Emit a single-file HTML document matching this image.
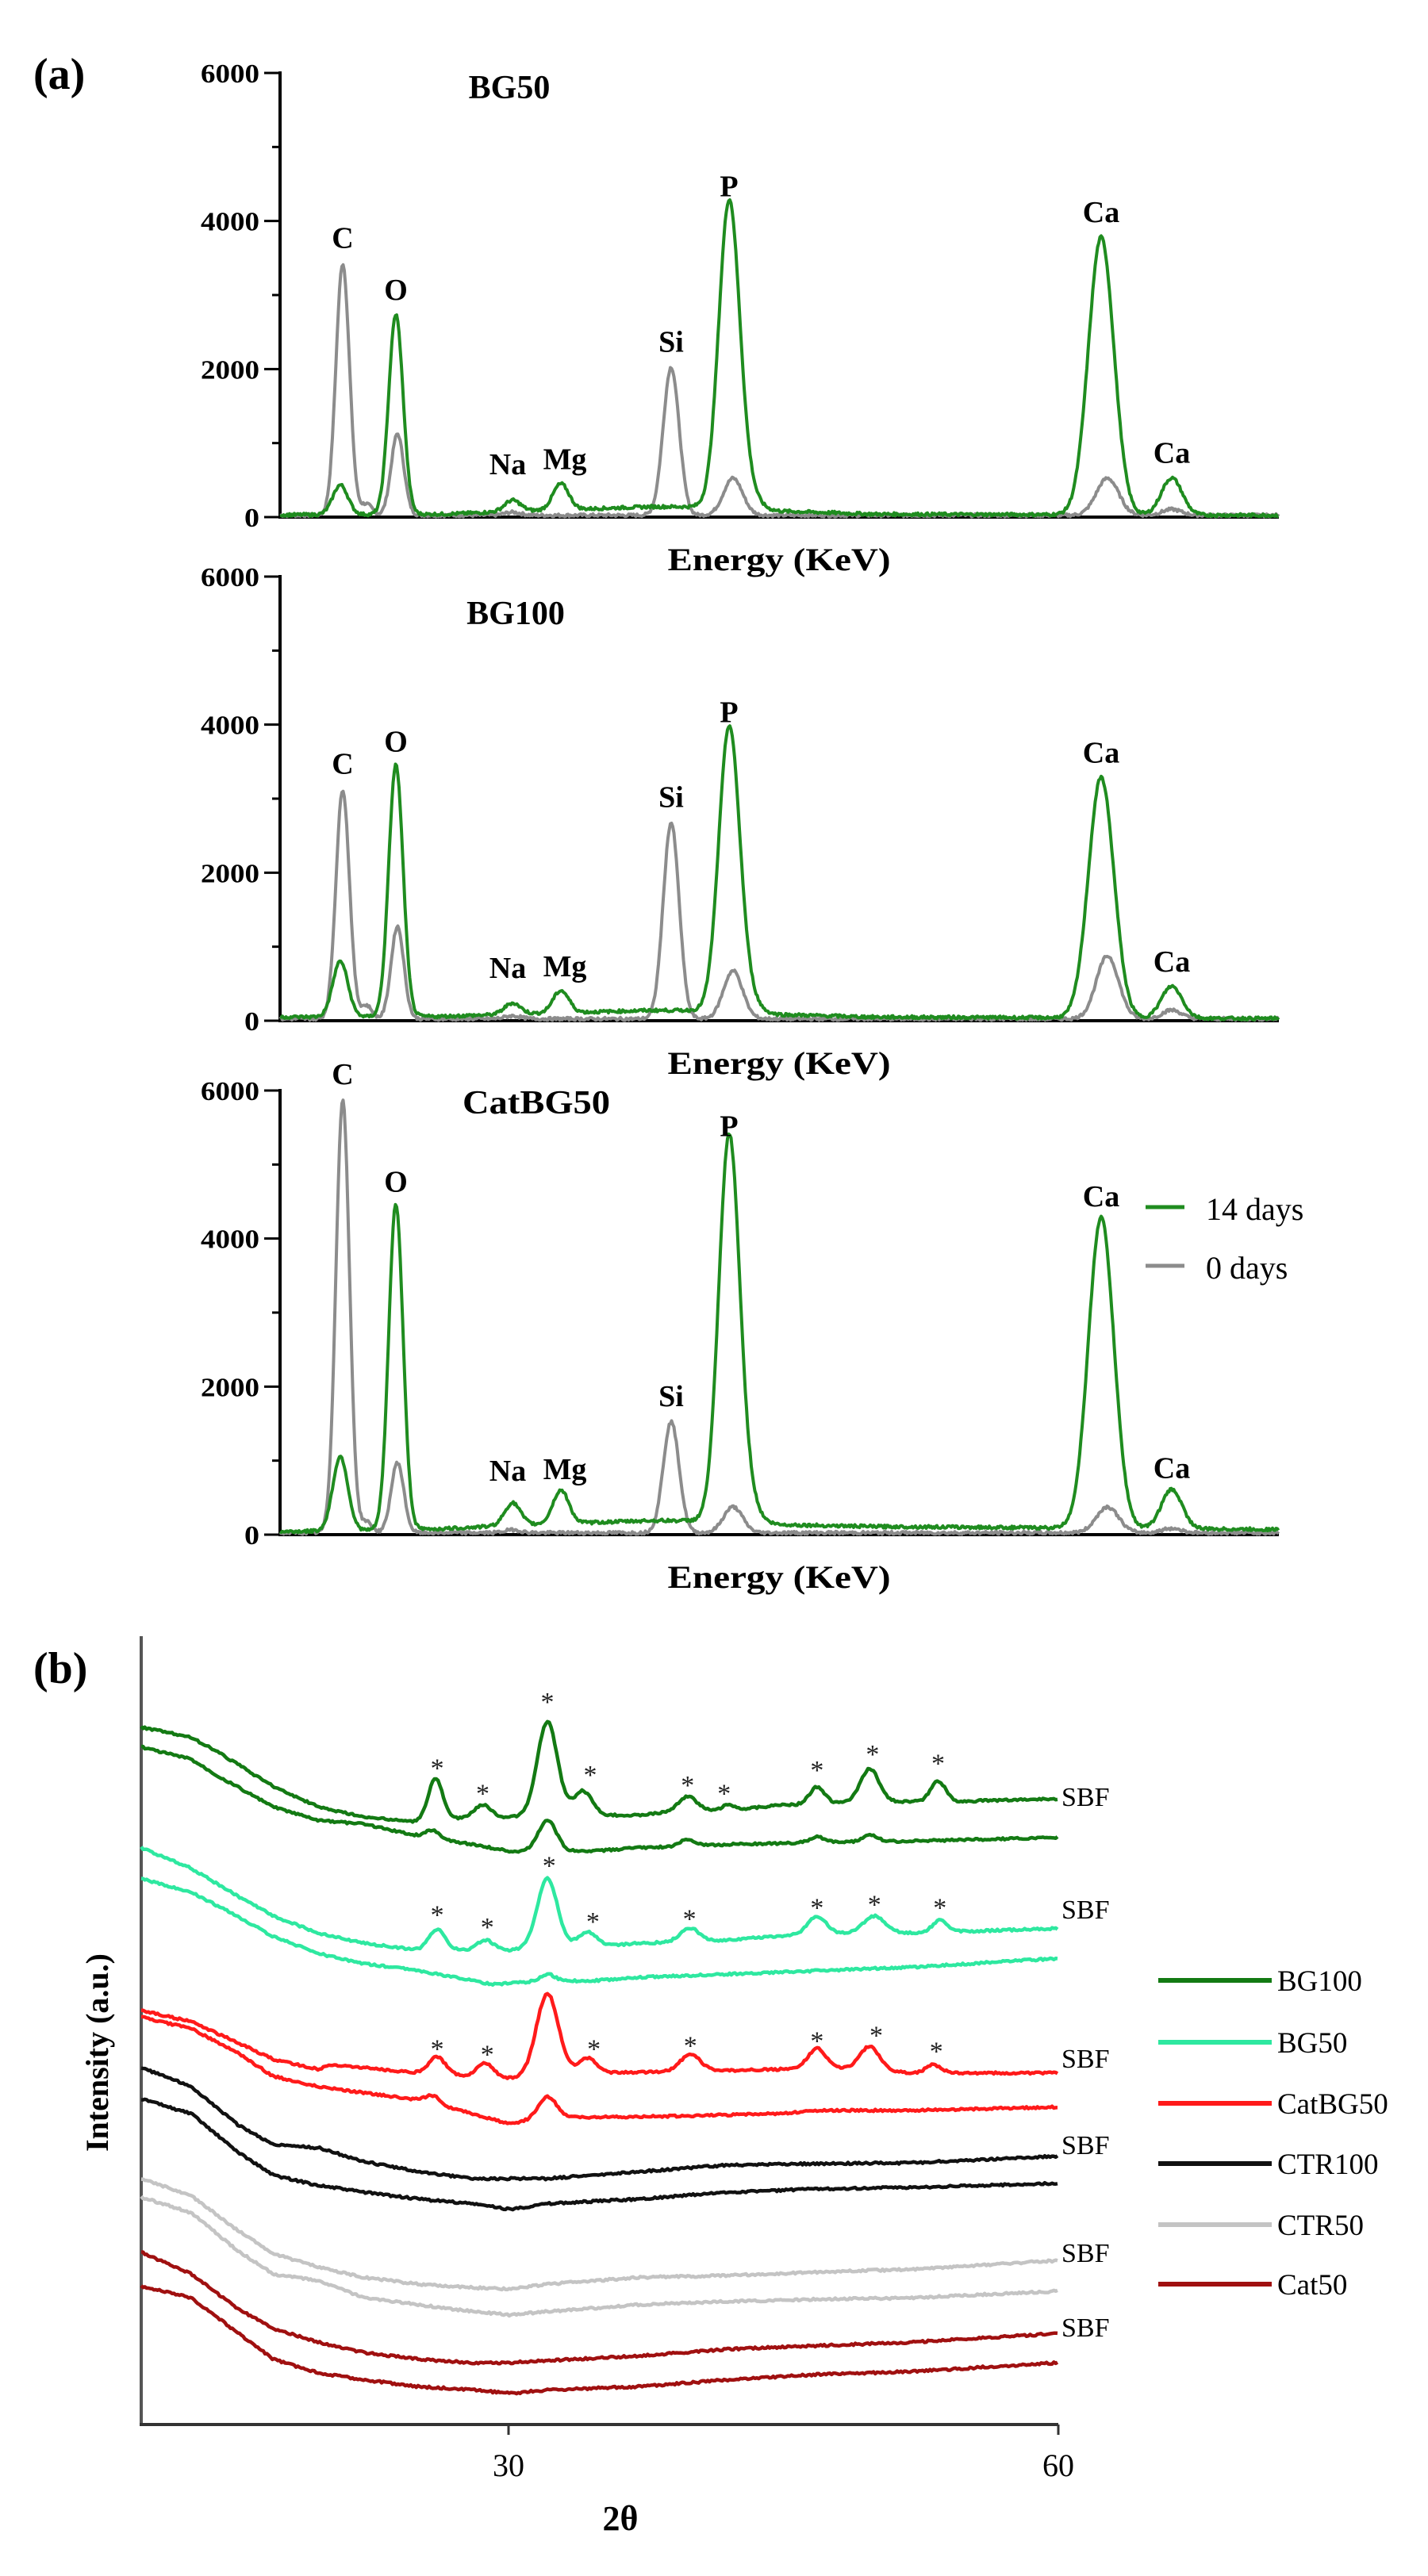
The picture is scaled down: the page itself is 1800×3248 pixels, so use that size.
<!DOCTYPE html>
<html><head><meta charset="utf-8">
<style>
html,body{margin:0;padding:0;background:#fff;}
svg{display:block;}
text{font-family:"Liberation Serif",serif;}
</style></head>
<body>
<svg id="s" xmlns="http://www.w3.org/2000/svg" width="1800" height="3248" viewBox="0 0 1800 3248">
<rect width="1800" height="3248" fill="#fff"/>
<text x="42" y="112" font-size="56" font-weight="bold">(a)</text>
<text x="42" y="2122" font-size="56" font-weight="bold">(b)</text>
<g id="eds"></g>
<g id="xrd"></g>
<text x="642" y="124" font-size="42" font-weight="bold" text-anchor="middle">BG50</text>
<text x="650" y="787" font-size="42" font-weight="bold" text-anchor="middle">BG100</text>
<text x="676" y="1404" font-size="42" font-weight="bold" text-anchor="middle" textLength="186" lengthAdjust="spacingAndGlyphs">CatBG50</text>
<g font-size="40" font-weight="bold" text-anchor="middle">
<text x="982" y="719" textLength="281" lengthAdjust="spacingAndGlyphs">Energy (KeV)</text>
<text x="982" y="1354" textLength="281" lengthAdjust="spacingAndGlyphs">Energy (KeV)</text>
<text x="982" y="2002" textLength="281" lengthAdjust="spacingAndGlyphs">Energy (KeV)</text>
</g>
<line x1="1444" y1="1522" x2="1493" y2="1522" stroke="#1f8c1f" stroke-width="5"/>
<line x1="1444" y1="1596" x2="1493" y2="1596" stroke="#8c8c8c" stroke-width="5"/>
<text x="1520" y="1538" font-size="40">14 days</text>
<text x="1520" y="1612" font-size="40">0 days</text>
<text x="641" y="3122" font-size="40" text-anchor="middle">30</text>
<text x="1334" y="3122" font-size="40" text-anchor="middle">60</text>
<text x="782" y="3190" font-size="44" font-weight="bold" text-anchor="middle">2θ</text>
<text transform="translate(136,2588) rotate(-90)" font-size="40" font-weight="bold" text-anchor="middle">Intensity (a.u.)</text>
<g font-size="37">
<text x="1610" y="2510">BG100</text>
<text x="1610" y="2588">BG50</text>
<text x="1610" y="2665">CatBG50</text>
<text x="1610" y="2741">CTR100</text>
<text x="1610" y="2818">CTR50</text>
<text x="1610" y="2893">Cat50</text>
</g>
<g stroke-width="6">
<line x1="1460" y1="2497" x2="1603" y2="2497" stroke="#137a13"/>
<line x1="1460" y1="2575" x2="1603" y2="2575" stroke="#2ee8a0"/>
<line x1="1460" y1="2652" x2="1603" y2="2652" stroke="#ff1a1a"/>
<line x1="1460" y1="2728" x2="1603" y2="2728" stroke="#111"/>
<line x1="1460" y1="2805" x2="1603" y2="2805" stroke="#c4c4c4"/>
<line x1="1460" y1="2880" x2="1603" y2="2880" stroke="#a01010"/>
</g>
<g font-size="34">
<text x="1338" y="2277">SBF</text>
<text x="1338" y="2419">SBF</text>
<text x="1338" y="2607">SBF</text>
<text x="1338" y="2716">SBF</text>
<text x="1338" y="2852">SBF</text>
<text x="1338" y="2946">SBF</text>
</g>
<g id="stars" font-size="34" text-anchor="middle" fill="#222"></g>
<g id="elabels" font-size="38" font-weight="bold" text-anchor="middle"></g>
</svg>
<script>
(function(){
var NS="http://www.w3.org/2000/svg";
function el(t,a,p){var e=document.createElementNS(NS,t);for(var k in a)e.setAttribute(k,a[k]);p.appendChild(e);return e;}
var seed=7;function rnd(){seed=(seed*9301+49297)%233280;return seed/233280;}
function interp(pts,x){for(var i=0;i<pts.length-1;i++){if(x<=pts[i+1][0]){var t=(x-pts[i][0])/(pts[i+1][0]-pts[i][0]);return pts[i][1]+t*(pts[i+1][1]-pts[i][1]);}}return pts[pts.length-1][1];}
function g(x,c,h,s){var d=(x-c)/s;return h*Math.exp(-0.5*d*d);}
var eds=document.getElementById('eds');
var X0=353,X1=1612;
var panels=[
 {z:652,green:{C:400,O:2700,Na:150,Mg:350,P:4100,Ca:3750,Ca2:500,bl:[[353,30],[560,40],[650,80],[820,140],[900,140],[960,90],[1100,40],[1612,25]]},
  gray:{C:3400,s:150,O:1100,Si:2000,P:500,Ca:500,Ca2:80}},
 {z:1287,green:{C:750,O:3400,Na:150,Mg:300,P:3800,Ca:3250,Ca2:430,bl:[[353,50],[560,60],[650,90],[820,140],[900,140],[960,90],[1100,50],[1612,30]]},
  gray:{C:3100,s:180,O:1250,Si:2650,P:650,Ca:850,Ca2:120}},
 {z:1935,green:{C:1000,O:4400,Na:300,Mg:450,P:5150,Ca:4200,Ca2:530,bl:[[353,40],[560,80],[650,130],[820,190],[900,190],[960,140],[1100,110],[1612,70]]},
  gray:{C:5850,s:150,O:950,Si:1500,P:350,Ca:350,Ca2:60}}
];
var pos={C:432,s:462,O:499,Na:646,Mg:707,Si:846,P:919,Ca:1388,Ca2:1477};
var sig={C:8.5,s:7,O:9,Na:10,Mg:10,Si:10,P:13,Ca:16,Ca2:13};
var lab=document.getElementById('elabels');
panels.forEach(function(p){
 var z=p.z,sc=560/6000;
 el('line',{x1:X0,y1:z-562,x2:X0,y2:z+2,stroke:'#000','stroke-width':4},eds);
 el('line',{x1:X0-2,y1:z,x2:X1,y2:z,stroke:'#000','stroke-width':4},eds);
 for(var v=0;v<=6000;v+=1000){var y=z-v*sc;el('line',{x1:(v%2000?X0-10:X0-20),y1:y,x2:X0,y2:y,stroke:'#000','stroke-width':3},eds);
  if(v%2000==0){var t=el('text',{x:327,y:y+12,'font-size':34,'font-weight':'bold','text-anchor':'end',textLength:(v?74:19),lengthAdjust:'spacingAndGlyphs'},eds);t.textContent=v;}}
 function curve(f,col,w){var d='';for(var x=X0;x<=X1;x+=1.5){var val=f(x)+(rnd()-0.5)*40;var y=z-Math.max(0,val)*sc;d+=(x==X0?'M':'L')+x.toFixed(1)+' '+y.toFixed(1);}el('path',{d:d,fill:'none',stroke:col,'stroke-width':w,'stroke-linejoin':'round'},eds);}
 var gr=p.gray,gn=p.green;
 curve(function(x){return 25+g(x,pos.C,gr.C,sig.C)+g(x,pos.s,gr.s,7)+g(x,pos.O+2,gr.O,8)+g(x,pos.Na,40,10)+g(x,pos.Si,gr.Si,sig.Si)+g(x,924,gr.P,12)+g(x,1396,gr.Ca,14)+g(x,pos.Ca2,gr.Ca2,12);},'#8c8c8c',4);
 curve(function(x){return interp(gn.bl,x)+g(x,pos.C-3,gn.C,sig.C+1)+g(x,pos.O,gn.O,sig.O)+g(x,pos.Na,gn.Na,10)+g(x,pos.Mg,gn.Mg,10)+g(x,pos.P,gn.P,13)+g(x,pos.P+22,gn.P*0.06,14)+g(x,pos.Ca,gn.Ca,16)+g(x,pos.Ca2,gn.Ca2,13);},'#1f8c1f',4);
 function L(txt,x,top){var t=el('text',{x:x,y:z-top*sc-22},lab);t.textContent=txt;}
 L('C',pos.C,Math.max(gr.C,gn.C));L('O',pos.O,Math.max(gr.O,gn.O));
 var t=el('text',{x:640,y:z-gn.Na*sc-40},lab);t.textContent='Na';
 t=el('text',{x:712,y:z-gn.Mg*sc-28},lab);t.textContent='Mg';
 L('Si',pos.Si,gr.Si);L('P',pos.P,gn.P);L('Ca',pos.Ca,gn.Ca);L('Ca',pos.Ca2,gn.Ca2);
});
var xr=document.getElementById('xrd');
function MX(x){return x/0.871;}function MY(y){return y/1.163+1900;}
el('line',{x1:178,y1:2063,x2:178,y2:3058,stroke:'#555','stroke-width':4},xr);
el('line',{x1:176,y1:3057,x2:1334,y2:3057,stroke:'#333','stroke-width':4},xr);
el('line',{x1:641,y1:3057,x2:641,y2:3070,stroke:'#333','stroke-width':3},xr);
el('line',{x1:1334,y1:3057,x2:1334,y2:3070,stroke:'#333','stroke-width':3},xr);
var curves=[
 ['#137a13',[[155,323],[210,338],[240,360],[300,410],[350,440],[400,455],[460,462],[520,455],[560,455],[600,450],[650,452],[700,452],[750,445],[800,445],[850,438],[900,435],[950,432],[1000,432],[1050,432],[1100,430],[1162,428]],[[478,62,8],[530,18,9],[601,135,11],[640,35,10],[755,20,10],[800,8,7],[897,25,8],[955,48,10],[1030,30,8]]],
 ['#137a13',[[155,352],[210,370],[240,395],[300,440],[350,460],[400,465],[460,483],[520,495],[560,505],[600,505],[650,505],[700,500],[800,495],[900,492],[1000,490],[1162,485]],[[475,12,8],[601,45,10],[755,10,8],[897,8,8],[955,10,8]]],
 ['#2ee8a0',[[155,500],[210,530],[260,570],[300,600],[350,625],[400,640],[460,650],[520,650],[560,650],[600,645],[650,645],[700,640],[800,635],[900,625],[1000,625],[1162,618]],[[480,30,9],[533,15,9],[601,100,11],[645,22,10],[757,20,10],[897,25,10],[960,25,12],[1032,18,8]]],
 ['#2ee8a0',[[155,545],[210,565],[260,600],[300,630],[350,655],[400,670],[460,680],[540,700],[600,695],[650,695],[700,690],[800,685],[900,680],[1000,675],[1162,662]],[[601,10,8]]],
 ['#ff1a1a',[[155,738],[210,755],[260,785],[300,810],[350,825],[360,818],[380,820],[460,830],[520,835],[560,838],[600,832],[660,830],[750,828],[850,825],[900,822],[1000,830],[1162,830]],[[480,25,9],[533,20,9],[601,118,12],[645,22,10],[758,25,11],[897,28,10],[955,35,11],[1025,12,8]]],
 ['#ff1a1a',[[155,748],[210,765],[260,800],[300,835],[350,850],[460,870],[520,890],[560,905],[600,895],[660,895],[750,893],[850,890],[900,885],[1000,885],[1162,880]],[[475,12,8],[601,30,10]]],
 ['#111',[[155,822],[210,850],[260,905],[300,935],[350,940],[400,960],[460,975],[520,985],[560,985],[600,985],[700,975],[800,965],[900,963],[1000,962],[1162,952]],[]],
 ['#111',[[155,868],[210,890],[260,945],[300,980],[350,995],[400,1005],[460,1015],[520,1022],[560,1030],[600,1022],[700,1015],[800,1005],[900,1000],[1000,998],[1162,992]],[]],
 ['#c4c4c4',[[155,985],[210,1010],[260,1060],[300,1095],[350,1115],[400,1130],[460,1140],[520,1145],[560,1147],[600,1140],[700,1130],[800,1127],[900,1122],[1000,1118],[1162,1105]],[]],
 ['#c4c4c4',[[155,1012],[210,1035],[260,1090],[300,1125],[350,1135],[400,1160],[460,1170],[520,1180],[560,1185],[600,1180],[700,1170],[800,1165],[900,1162],[1000,1160],[1162,1150]],[]],
 ['#a01010',[[155,1093],[210,1125],[260,1175],[300,1205],[350,1225],[400,1240],[460,1250],[520,1255],[560,1255],[600,1252],[700,1245],[800,1235],[900,1230],[1000,1225],[1162,1212]],[]],
 ['#a01010',[[155,1143],[210,1160],[260,1210],[300,1250],[350,1270],[400,1280],[460,1290],[520,1295],[560,1300],[600,1295],[700,1290],[800,1280],[900,1272],[1000,1268],[1162,1255]],[]]
];
curves.forEach(function(c){var d='';for(var x=155;x<=1162;x+=2){var y=interp(c[1],x);c[2].forEach(function(p){y-=g(x,p[0],p[1],p[2]);});y+=(rnd()-0.5)*3;d+=(x==155?'M':'L')+MX(x).toFixed(1)+' '+MY(y).toFixed(1);}
 el('path',{d:d,fill:'none',stroke:c[0],'stroke-width':4.5,'stroke-linejoin':'round'},xr);});
var st=document.getElementById('stars');
[[480,375],[530,412],[601,278],[648,385],[755,400],[795,412],[897,378],[958,355],[1030,368],
 [480,590],[535,608],[603,518],[651,600],[757,596],[897,580],[960,575],[1032,580],
 [480,787],[535,795],[652,787],[758,782],[897,775],[962,767],[1028,790]].forEach(function(p){var t=el('text',{x:MX(p[0]).toFixed(1),y:(MY(p[1])+18).toFixed(1)},st);t.textContent='*';});
})();
</script>
</body></html>
